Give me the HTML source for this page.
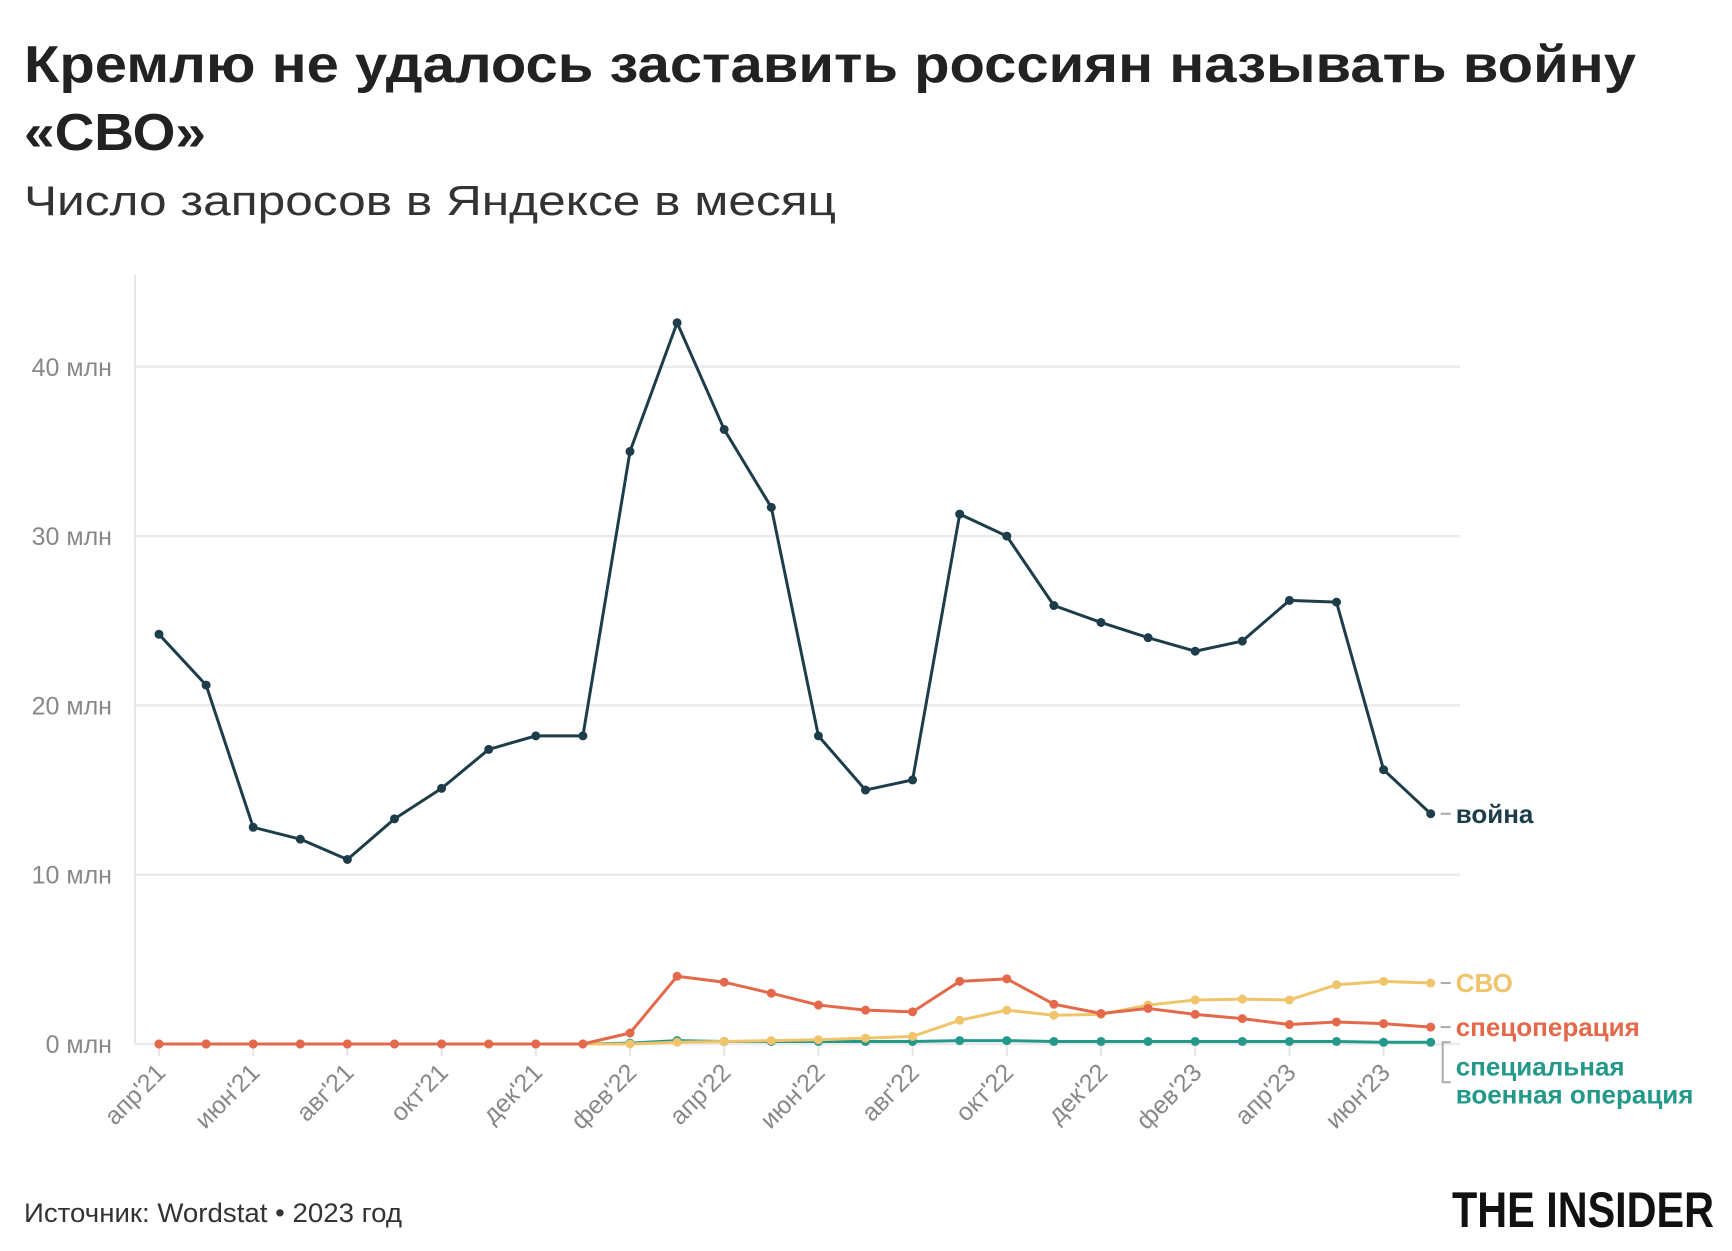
<!DOCTYPE html>
<html><head><meta charset="utf-8"><style>
body{margin:0;background:#fff;}
svg{display:block;font-family:"Liberation Sans","DejaVu Sans",sans-serif;}
</style></head><body>
<svg id="chart" width="1732" height="1251" viewBox="0 0 1732 1251" xmlns="http://www.w3.org/2000/svg">
<rect width="1732" height="1251" fill="#fff"/>
<text x="24" y="82" font-size="52" font-weight="bold" fill="#222" textLength="1612" lengthAdjust="spacingAndGlyphs">Кремлю не удалось заставить россиян называть войну</text>
<text x="24" y="150" font-size="52" font-weight="bold" fill="#222" textLength="182" lengthAdjust="spacingAndGlyphs">«СВО»</text>
<text x="24" y="215" font-size="42" fill="#333" textLength="812" lengthAdjust="spacingAndGlyphs">Число запросов в Яндексе в месяц</text>
<g id="grid"></g><g id="axes"></g><g id="series"></g>
<text x="24" y="1222" font-size="27" fill="#333" textLength="378" lengthAdjust="spacingAndGlyphs">Источник: Wordstat • 2023 год</text>
<text x="1452" y="1227" font-size="50" font-weight="bold" fill="#111" textLength="262" lengthAdjust="spacingAndGlyphs">THE INSIDER</text>
</svg>
<script>
const months = ["апр'21","май'21","июн'21","июл'21","авг'21","сен'21","окт'21","ноя'21","дек'21","янв'22","фев'22","мар'22","апр'22","май'22","июн'22","июл'22","авг'22","сен'22","окт'22","ноя'22","дек'22","янв'23","фев'23","мар'23","апр'23","май'23","июн'23","июл'23"];
const voyna = [24.2,21.2,12.8,12.1,10.9,13.3,15.1,17.4,18.2,18.2,35.0,42.6,36.3,31.7,18.2,15.0,15.6,31.3,30.0,25.9,24.9,24.0,23.2,23.8,26.2,26.1,16.2,13.6];
const specop = [0,0,0,0,0,0,0,0,0,0,0.65,4.0,3.65,3.0,2.3,2.0,1.9,3.7,3.85,2.35,1.8,2.1,1.75,1.5,1.15,1.3,1.2,1.0];
const svo = [0,0,0,0,0,0,0,0,0,0,0,0.1,0.15,0.2,0.25,0.35,0.45,1.4,2.0,1.7,1.75,2.3,2.6,2.65,2.6,3.5,3.7,3.6];
const svoFull = [0,0,0,0,0,0,0,0,0,0,0.05,0.2,0.15,0.15,0.15,0.15,0.15,0.2,0.2,0.15,0.15,0.15,0.15,0.15,0.15,0.15,0.1,0.1];
const yTicks = [0,10,20,30,40];
const xTickEvery = 2;

const NS="http://www.w3.org/2000/svg";
const X0=159, XSTEP=47.1, Y0=1044, YPER=16.93;
const xs=i=>X0+i*XSTEP, ys=v=>Y0-v*YPER;
function mk(tag,attrs,parent){const e=document.createElementNS(NS,tag);for(const k in attrs)e.setAttribute(k,attrs[k]);parent.appendChild(e);return e;}
const grid=document.getElementById('grid'), axes=document.getElementById('axes'), ser=document.getElementById('series');
let l=mk('line',{x1:135,x2:135,y1:275,y2:1044,stroke:'#e6e6e6','stroke-width':2},grid);


yTicks.forEach(v=>{
  const g=mk('line',{x1:135,x2:1460,y1:ys(v),y2:ys(v),stroke:'#ebebeb','stroke-width':2.5},grid);
  
  
  const t=mk('text',{x:112,y:ys(v)+9,'text-anchor':'end','font-size':25,fill:'#888'},axes);
  t.textContent=v+' млн';
  
  
});
months.forEach((m,i)=>{
  if(i%xTickEvery!==0 || i>=voyna.length) return;
  const x=xs(i);
  const tk=mk('line',{x1:x,x2:x,y1:1044,y2:1056,stroke:'#e6e6e6','stroke-width':2},axes);
  
  
  const t=mk('text',{x:x+8,y:1074,'text-anchor':'end','font-size':25,fill:'#888',transform:`rotate(-45 ${x+8} 1074)`},axes);
  t.textContent=m;
  
  
});
function drawSeries(data,color,name,w,r){
  const g=mk('g',{},ser);
  
  
  const p=mk('polyline',{points:data.map((v,i)=>xs(i)+','+ys(v)).join(' '),fill:'none',stroke:color,'stroke-width':w,'stroke-linejoin':'round'},g);
  
  
  data.forEach((v,i)=>{
    const c=mk('circle',{cx:xs(i),cy:ys(v),r:r,fill:color},g);
    
    
  });
}
drawSeries(svoFull,'#24998a','special-military-operation',3,4.5);
drawSeries(svo,'#f0c46a','svo',3,4.5);
drawSeries(specop,'#e4694a','specoperation',3,4.5);
drawSeries(voyna,'#1e3d4a','war',3,4.5);
function label(txt,x,y,color,name){
  const t=mk('text',{x:x,y:y,'font-size':26,'font-weight':'bold',fill:color},ser);
  t.textContent=txt;
  
  
}
const last=voyna.length-1, lx=xs(last);
[[voyna,'война','#1e3d4a','label-war'],[svo,'СВО','#f0c46a','label-svo'],[specop,'спецоперация','#e4694a','label-specoperation']].forEach(([d,t,c,n])=>{
  const y=ys(d[last]);
  const dl=mk('line',{x1:lx+10,x2:lx+20,y1:y,y2:y,stroke:'#aaa','stroke-width':2},ser);
  
  
  label(t,lx+25,y+9,c,n);
});
const by=ys(svoFull[last]);
const br=mk('path',{d:`M${lx+20} ${by} H${lx+12} V${by+40} H${lx+20}`,fill:'none',stroke:'#aaa','stroke-width':2},ser);


label('специальная',lx+25,by+33,'#24998a','label-special-1');
label('военная операция',lx+25,by+61,'#24998a','label-special-2');
</script>
</body></html>
